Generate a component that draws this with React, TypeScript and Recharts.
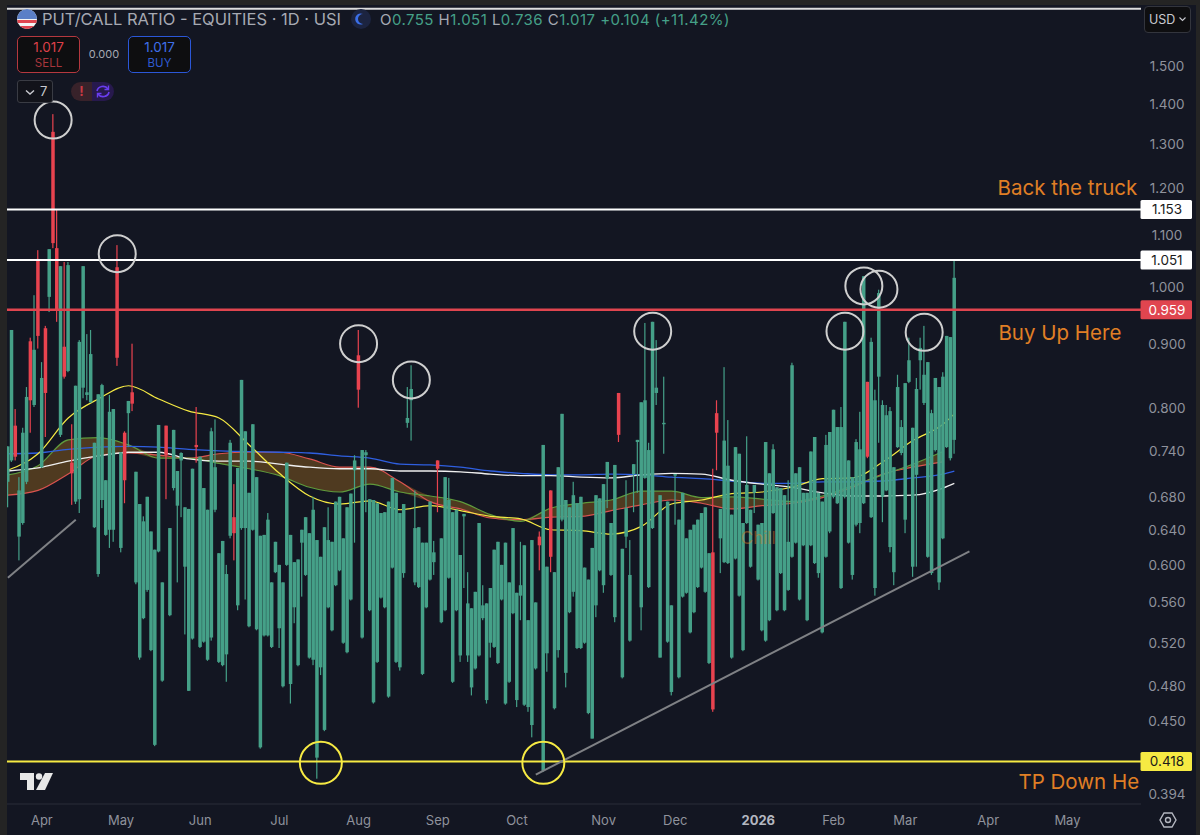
import React from 'react';
import {
  Area,
  Bar,
  ComposedChart,
  Line,
  ReferenceDot,
  ReferenceLine,
  XAxis,
  YAxis,
} from 'recharts';

// daily candles, one entry per session, oldest first
const highs = [
  0.746, 0.924, 0.799, 0.705, 0.772, 0.832, 0.911, 0.985, 1.07, 0.871,
  0.931, 1.072, 1.374, 1.154, 1.039, 1.047, 1.047, 0.777, 0.834, 0.907,
  1.039, 0.917, 0.924, 0.751, 0.821, 0.837, 0.701, 0.82, 0.799, 1.08,
  0.738, 0.767, 0.811, 0.901, 0.712, 0.671, 0.656, 0.68, 0.638, 0.617,
  0.776, 0.581, 0.775, 0.642, 0.769, 0.713, 0.738, 0.667, 0.665, 0.716,
  0.802, 0.732, 0.691, 0.664, 0.772, 0.784, 0.613, 0.627, 0.6, 0.755,
  0.696, 0.717, 0.843, 0.767, 0.685, 0.777, 0.705, 0.633, 0.634, 0.66,
  0.581, 0.626, 0.6, 0.581, 0.724, 0.634, 0.603, 0.606, 0.64, 0.655,
  0.636, 0.68, 0.628, 0.609, 0.643, 0.667, 0.626, 0.674, 0.68, 0.63,
  0.667, 0.684, 0.734, 0.924, 0.741, 0.741, 0.677, 0.676, 0.672, 0.66,
  0.661, 0.674, 0.704, 0.685, 0.66, 0.671, 0.832, 0.866, 0.688, 0.643,
  0.625, 0.625, 0.674, 0.627, 0.727, 0.63, 0.705, 0.704, 0.661, 0.664,
  0.611, 0.659, 0.592, 0.554, 0.571, 0.648, 0.578, 0.559, 0.575, 0.617,
  0.626, 0.6, 0.625, 0.581, 0.642, 0.57, 0.626, 0.622, 0.542, 0.628,
  0.56, 0.638, 0.748, 0.598, 0.688, 0.592, 0.718, 0.792, 0.676, 0.667,
  0.699, 0.672, 0.68, 0.597, 0.584, 0.619, 0.682, 0.678, 0.696, 0.725,
  0.648, 0.721, 0.823, 0.618, 0.701, 0.628, 0.722, 0.755, 0.809, 0.936,
  0.751, 0.938, 0.907, 0.682, 0.848, 0.674, 0.557, 0.709, 0.652, 0.685,
  0.63, 0.64, 0.646, 0.652, 0.66, 0.667, 0.613, 0.716, 0.812, 0.665,
  0.863, 0.783, 0.658, 0.745, 0.736, 0.648, 0.76, 0.664, 0.695, 0.646,
  0.648, 0.752, 0.71, 0.749, 0.692, 0.691, 0.682, 0.701, 0.87, 0.71,
  0.718, 0.685, 0.685, 0.739, 0.759, 0.685, 0.674, 0.762, 0.766, 0.798,
  0.773, 0.802, 0.938, 0.727, 0.705, 0.756, 0.795, 1.02, 0.84, 0.911,
  0.828, 0.995, 0.812, 0.805, 0.802, 0.718, 0.851, 0.783, 0.838, 0.911,
  0.772, 0.846, 0.911, 0.931, 0.871, 0.798, 0.846, 0.832, 0.855, 0.914,
  0.912, 1.051,
];

const lows = [
  0.667, 0.725, 0.727, 0.605, 0.646, 0.696, 0.765, 0.802, 0.893, 0.717,
  0.759, 0.955, 1.074, 0.938, 0.759, 0.845, 0.855, 0.67, 0.671, 0.66,
  0.815, 0.812, 0.808, 0.642, 0.587, 0.666, 0.633, 0.619, 0.626, 0.865,
  0.614, 0.672, 0.745, 0.796, 0.579, 0.504, 0.543, 0.571, 0.512, 0.43,
  0.614, 0.484, 0.677, 0.546, 0.688, 0.581, 0.655, 0.528, 0.476, 0.523,
  0.724, 0.515, 0.52, 0.503, 0.522, 0.661, 0.501, 0.498, 0.484, 0.63,
  0.605, 0.552, 0.64, 0.563, 0.535, 0.639, 0.532, 0.428, 0.526, 0.526,
  0.515, 0.591, 0.515, 0.479, 0.599, 0.465, 0.539, 0.498, 0.566, 0.588,
  0.505, 0.499, 0.405, 0.49, 0.442, 0.554, 0.531, 0.577, 0.593, 0.519,
  0.51, 0.562, 0.625, 0.801, 0.524, 0.661, 0.551, 0.465, 0.501, 0.564,
  0.554, 0.47, 0.596, 0.501, 0.494, 0.586, 0.772, 0.754, 0.578, 0.575,
  0.49, 0.554, 0.583, 0.589, 0.661, 0.539, 0.551, 0.585, 0.483, 0.551,
  0.502, 0.575, 0.502, 0.472, 0.495, 0.507, 0.542, 0.465, 0.506, 0.515,
  0.5, 0.562, 0.464, 0.483, 0.548, 0.462, 0.542, 0.463, 0.458, 0.437,
  0.495, 0.594, 0.41, 0.493, 0.592, 0.46, 0.506, 0.65, 0.479, 0.549,
  0.566, 0.514, 0.514, 0.519, 0.456, 0.436, 0.545, 0.593, 0.57, 0.666,
  0.588, 0.54, 0.752, 0.487, 0.619, 0.521, 0.661, 0.685, 0.532, 0.703,
  0.575, 0.641, 0.805, 0.506, 0.736, 0.52, 0.472, 0.646, 0.487, 0.565,
  0.569, 0.529, 0.549, 0.575, 0.596, 0.57, 0.5, 0.458, 0.714, 0.591,
  0.602, 0.601, 0.505, 0.606, 0.566, 0.512, 0.647, 0.597, 0.66, 0.583,
  0.531, 0.521, 0.541, 0.659, 0.551, 0.59, 0.551, 0.572, 0.608, 0.624,
  0.562, 0.621, 0.541, 0.621, 0.601, 0.586, 0.529, 0.608, 0.636, 0.678,
  0.671, 0.574, 0.678, 0.624, 0.584, 0.644, 0.636, 0.671, 0.73, 0.654,
  0.567, 0.751, 0.649, 0.687, 0.614, 0.578, 0.744, 0.734, 0.636, 0.838,
  0.587, 0.598, 0.828, 0.805, 0.608, 0.589, 0.739, 0.573, 0.629, 0.744,
  0.727, 0.736,
];

const bodyTops = [
  0.746, 0.924, 0.775, 0.688, 0.765, 0.817, 0.905, 0.891, 1.053, 0.846,
  0.927, 1.072, 1.33, 1.074, 1.039, 0.896, 1.041, 0.724, 0.834, 0.904,
  1.039, 0.824, 0.884, 0.751, 0.821, 0.835, 0.701, 0.795, 0.799, 1.037,
  0.738, 0.765, 0.811, 0.824, 0.712, 0.671, 0.65, 0.68, 0.638, 0.617,
  0.776, 0.581, 0.775, 0.642, 0.769, 0.713, 0.737, 0.667, 0.665, 0.716,
  0.748, 0.732, 0.691, 0.664, 0.767, 0.718, 0.613, 0.627, 0.59, 0.751,
  0.655, 0.717, 0.843, 0.767, 0.685, 0.777, 0.705, 0.633, 0.634, 0.652,
  0.581, 0.626, 0.6, 0.581, 0.724, 0.634, 0.603, 0.606, 0.64, 0.655,
  0.636, 0.664, 0.628, 0.609, 0.643, 0.628, 0.626, 0.674, 0.68, 0.63,
  0.667, 0.684, 0.727, 0.882, 0.741, 0.738, 0.677, 0.676, 0.672, 0.66,
  0.661, 0.674, 0.704, 0.685, 0.66, 0.671, 0.786, 0.829, 0.642, 0.643,
  0.625, 0.625, 0.674, 0.614, 0.727, 0.63, 0.705, 0.676, 0.661, 0.664,
  0.611, 0.659, 0.559, 0.554, 0.571, 0.648, 0.557, 0.559, 0.575, 0.617,
  0.626, 0.6, 0.625, 0.581, 0.642, 0.57, 0.578, 0.622, 0.542, 0.628,
  0.56, 0.632, 0.748, 0.598, 0.688, 0.592, 0.718, 0.792, 0.676, 0.667,
  0.682, 0.672, 0.68, 0.597, 0.584, 0.619, 0.682, 0.678, 0.696, 0.725,
  0.648, 0.721, 0.823, 0.618, 0.666, 0.589, 0.722, 0.755, 0.809, 0.812,
  0.741, 0.938, 0.831, 0.682, 0.779, 0.674, 0.557, 0.709, 0.652, 0.685,
  0.63, 0.64, 0.646, 0.652, 0.66, 0.667, 0.613, 0.614, 0.793, 0.665,
  0.754, 0.72, 0.658, 0.745, 0.736, 0.648, 0.695, 0.664, 0.695, 0.646,
  0.648, 0.752, 0.71, 0.742, 0.692, 0.691, 0.682, 0.626, 0.866, 0.71,
  0.718, 0.685, 0.685, 0.739, 0.759, 0.685, 0.674, 0.748, 0.766, 0.798,
  0.773, 0.773, 0.938, 0.727, 0.705, 0.752, 0.742, 1.02, 0.84, 0.904,
  0.812, 0.989, 0.805, 0.79, 0.796, 0.718, 0.832, 0.773, 0.838, 0.874,
  0.772, 0.829, 0.894, 0.851, 0.871, 0.793, 0.846, 0.832, 0.848, 0.914,
  0.912, 1.017,
];

const bodyBottoms = [
  0.699, 0.727, 0.732, 0.632, 0.648, 0.699, 0.812, 0.805, 0.914, 0.718,
  0.823, 0.982, 1.084, 0.959, 0.762, 0.848, 0.857, 0.71, 0.674, 0.677,
  0.831, 0.82, 0.809, 0.643, 0.59, 0.676, 0.634, 0.64, 0.64, 0.878,
  0.619, 0.701, 0.793, 0.807, 0.581, 0.506, 0.544, 0.573, 0.513, 0.431,
  0.615, 0.485, 0.734, 0.547, 0.691, 0.669, 0.727, 0.598, 0.476, 0.524,
  0.745, 0.516, 0.521, 0.504, 0.525, 0.664, 0.502, 0.499, 0.509, 0.633,
  0.636, 0.557, 0.642, 0.642, 0.536, 0.64, 0.533, 0.429, 0.527, 0.527,
  0.516, 0.592, 0.534, 0.48, 0.6, 0.482, 0.555, 0.499, 0.625, 0.589,
  0.506, 0.504, 0.421, 0.497, 0.443, 0.555, 0.532, 0.578, 0.594, 0.52,
  0.511, 0.563, 0.714, 0.828, 0.525, 0.734, 0.552, 0.466, 0.502, 0.565,
  0.555, 0.471, 0.597, 0.502, 0.497, 0.591, 0.779, 0.812, 0.581, 0.576,
  0.491, 0.555, 0.584, 0.603, 0.716, 0.54, 0.552, 0.586, 0.484, 0.552,
  0.508, 0.656, 0.508, 0.479, 0.496, 0.508, 0.544, 0.468, 0.52, 0.516,
  0.501, 0.563, 0.465, 0.484, 0.549, 0.468, 0.567, 0.464, 0.462, 0.447,
  0.496, 0.622, 0.411, 0.51, 0.609, 0.461, 0.513, 0.652, 0.492, 0.55,
  0.571, 0.515, 0.515, 0.52, 0.457, 0.436, 0.557, 0.594, 0.578, 0.703,
  0.589, 0.545, 0.762, 0.488, 0.632, 0.522, 0.709, 0.752, 0.555, 0.704,
  0.576, 0.642, 0.823, 0.506, 0.777, 0.521, 0.475, 0.707, 0.488, 0.566,
  0.57, 0.53, 0.55, 0.576, 0.597, 0.571, 0.501, 0.46, 0.765, 0.63,
  0.603, 0.602, 0.506, 0.607, 0.567, 0.513, 0.648, 0.598, 0.685, 0.584,
  0.532, 0.522, 0.542, 0.66, 0.552, 0.591, 0.552, 0.573, 0.609, 0.625,
  0.563, 0.622, 0.542, 0.622, 0.602, 0.591, 0.53, 0.609, 0.638, 0.68,
  0.672, 0.575, 0.68, 0.625, 0.589, 0.646, 0.648, 0.672, 0.732, 0.655,
  0.575, 0.848, 0.68, 0.688, 0.62, 0.592, 0.745, 0.737, 0.652, 0.84,
  0.598, 0.708, 0.874, 0.808, 0.609, 0.591, 0.741, 0.581, 0.63, 0.745,
  0.73, 0.755,
];

// sessions that closed below their open
const redBars = [2, 6, 8, 10, 12, 13, 15, 17, 29, 31, 33, 42, 50, 60, 93, 114, 141, 144, 162, 187, 188, 228];

// moving averages read at these sessions only
const maBars = [
  0, 8, 16, 24, 32, 40, 48, 56, 64, 72, 80, 88, 96, 104, 112, 120, 128,
  136, 144, 152, 160, 168, 176, 184, 192, 200, 208, 216, 224, 232, 240, 248, 251,
];
const yellowMa = [
  0.714, 0.736, 0.786, 0.814, 0.834, 0.814, 0.796, 0.786, 0.748, 0.71, 0.681,
  0.671, 0.675, 0.664, 0.669, 0.663, 0.656, 0.653, 0.64, 0.639, 0.635, 0.644,
  0.671, 0.676, 0.684, 0.686, 0.692, 0.703, 0.704, 0.725, 0.754, 0.777, 0.792,
];
const blueMa = [
  0.736, 0.737, 0.742, 0.745, 0.746, 0.745, 0.742, 0.74, 0.739, 0.738, 0.737,
  0.733, 0.73, 0.722, 0.721, 0.718, 0.713, 0.71, 0.708, 0.708, 0.709, 0.708,
  0.705, 0.703, 0.7, 0.697, 0.697, 0.699, 0.699, 0.7, 0.704, 0.709, 0.713,
];
const whiteMa = [
  0.713, 0.717, 0.726, 0.733, 0.738, 0.738, 0.729, 0.726, 0.726, 0.722, 0.718,
  0.716, 0.716, 0.713, 0.713, 0.712, 0.709, 0.707, 0.707, 0.705, 0.704, 0.708,
  0.71, 0.709, 0.701, 0.696, 0.692, 0.685, 0.681, 0.681, 0.682, 0.691, 0.697,
];
const greenMa = [
  0.708, 0.72, 0.755, 0.758, 0.748, 0.73, 0.73, 0.723, 0.716, 0.707, 0.692,
  0.686, 0.696, 0.686, 0.681, 0.674, 0.658, 0.65, 0.666, 0.672, 0.676, 0.687,
  0.687, 0.679, 0.68, 0.677, 0.674, 0.681, 0.694, 0.708, 0.722, 0.739, null,
];
const redMa = [
  0.682, 0.688, 0.709, 0.734, 0.737, 0.734, 0.73, 0.736, 0.738, 0.738, 0.729,
  0.718, 0.718, 0.699, 0.674, 0.665, 0.654, 0.652, 0.655, 0.656, 0.663, 0.67,
  0.676, 0.672, 0.665, 0.669, 0.672, 0.679, 0.692, 0.709, 0.718, 0.725, null,
];

const priceTicks = [
  1.5, 1.4, 1.3, 1.2, 1.153, 1.1, 1.051, 1.0, 0.959, 0.9, 0.8, 0.74, 0.68,
  0.64, 0.6, 0.56, 0.52, 0.48, 0.45, 0.418, 0.394,
];
const monthBars = [9, 30, 51, 72, 93, 114, 135, 158, 177, 199, 219, 238, 260, 281];
const monthLabels = ['Apr', 'May', 'Jun', 'Jul', 'Aug', 'Sep', 'Oct', 'Nov', 'Dec', '2026', 'Feb', 'Mar', 'Apr', 'May'];

const greyCircles = [[12, 1.359], [29, 1.063], [93, 0.901], [107, 0.843], [171, 0.922], [222, 0.922], [227, 1.002], [231, 0.996], [243, 0.92]];
const yellowCircles = [[83, 0.417], [142, 0.417]];

const TOTAL_SLOTS = 301; // chart keeps blank room on the right for future sessions
const FONT = 'Inter, "Noto Sans", sans-serif';
const BG = '#131622';
const TEAL = '#45a088';
const RED = '#e8434f';
const YELLOW = '#f6ea43';
const ORANGE = '#e07f25';

const TAGS: Record<string, { bg: string; fg: string }> = {
  '1.153': { bg: '#ffffff', fg: '#1a1a1a' },
  '1.051': { bg: '#ffffff', fg: '#1a1a1a' },
  '0.959': { bg: '#e0454f', fg: '#ffffff' },
  '0.418': { bg: YELLOW, fg: '#1a1a1a' },
};

const rows = Array.from({ length: TOTAL_SLOTS }, (_, i) => {
  const k = maBars.indexOf(i);
  const hasBand = k >= 0 && greenMa[k] != null;
  return {
    i,
    wick: i < highs.length ? [lows[i], highs[i]] : null,
    body: i < highs.length ? [bodyBottoms[i], bodyTops[i]] : null,
    red: redBars.includes(i),
    yellow: k >= 0 ? yellowMa[k] : null,
    blue: k >= 0 ? blueMa[k] : null,
    white: k >= 0 ? whiteMa[k] : null,
    green: k >= 0 ? greenMa[k] : null,
    redLine: k >= 0 ? redMa[k] : null,
    band: hasBand ? [Math.min(greenMa[k]!, redMa[k]!), Math.max(greenMa[k]!, redMa[k]!)] : null,
  };
});

const candlePart = (props: any) => {
  const { x, y, width, height, payload } = props;
  if (!payload || !payload.wick || !Number.isFinite(y)) return <g />;
  return <rect x={x} y={y} width={width} height={Math.max(height, 1)} fill={payload.red ? RED : TEAL} />;
};

const PriceTick = ({ x, y, payload }: any) => {
  const label = payload.value.toFixed(3);
  const tag = TAGS[label];
  return (
    <g>
      {tag && <rect x={x - 6.5} y={y - 9.5} width={51.5} height={19} rx={1.5} fill={tag.bg} />}
      <text
        x={x + 20}
        y={y}
        dy="0.36em"
        textAnchor="middle"
        fontFamily={FONT}
        fontSize={13.5}
        fill={tag ? tag.fg : '#8f929c'}
      >
        {label}
      </text>
    </g>
  );
};

const MonthTick = ({ x, y, payload }: any) => {
  const label = monthLabels[monthBars.indexOf(payload.value)];
  const bold = label === '2026';
  return (
    <text
      x={x}
      y={y + 13}
      textAnchor="middle"
      fontFamily={FONT}
      fontSize={13}
      fontWeight={bold ? 700 : 400}
      fill={bold ? '#b4b7c0' : '#8f929c'}
    >
      {label}
    </text>
  );
};

const note = (value: string, fontSize = 20.5, color = ORANGE) => ({
  value,
  position: 'center' as const,
  fill: color,
  fontSize,
  fontFamily: FONT,
});

const box = (left: number, top: number, width: number, height: number, extra: React.CSSProperties = {}): React.CSSProperties => ({
  position: 'absolute',
  left,
  top,
  width,
  height,
  boxSizing: 'border-box',
  ...extra,
});

const Header = () => (
  <div style={{ fontFamily: FONT }}>
    <svg style={box(17, 9, 20, 20)} viewBox="0 0 20 20">
      <clipPath id="flag"><circle cx="10" cy="10" r="10" /></clipPath>
      <g clipPath="url(#flag)">
        <rect width="20" height="20" fill="#f4f4f4" />
        <rect y="11" width="20" height="3" fill="#e0454f" />
        <rect y="17" width="20" height="3" fill="#e0454f" />
        <rect width="20" height="10" fill="#5b7fc7" />
      </g>
    </svg>
    <div style={box(42, 9, 310, 20, { color: '#a6a9b2', fontSize: 16.5, lineHeight: '20px', whiteSpace: 'nowrap' })}>
      PUT/CALL RATIO - EQUITIES · 1D · USI
    </div>
    <svg style={box(351, 9, 20, 20)} viewBox="0 0 20 20">
      <circle cx="10" cy="10" r="10" fill="#1c2440" />
      <path d="M12 5a5.5 5.5 0 1 0 0 10a5 5 0 0 1 0-10z" fill="#3b6fe8" />
    </svg>
    <div style={box(380, 10, 360, 20, { color: '#a6a9b2', fontSize: 15, letterSpacing: 0.45, lineHeight: '20px', whiteSpace: 'nowrap' })}>
      O<span style={{ color: TEAL }}>0.755</span> H<span style={{ color: TEAL }}>1.051</span> L
      <span style={{ color: TEAL }}>0.736</span> C<span style={{ color: TEAL }}>1.017 +0.104 (+11.42%)</span>
    </div>

    <div style={box(17, 36, 63, 37, { border: '1.5px solid #b5383f', borderRadius: 5, background: '#0e0e10', color: '#dc4049', textAlign: 'center' })}>
      <div style={{ fontSize: 13.5, lineHeight: '19px', marginTop: 1 }}>1.017</div>
      <div style={{ fontSize: 11.5, lineHeight: '13px', color: '#a8363d' }}>SELL</div>
    </div>
    <div style={box(80, 45, 48, 18, { color: '#a6a9b2', fontSize: 11, lineHeight: '18px', textAlign: 'center' })}>0.000</div>
    <div style={box(128, 36, 63, 37, { border: '1.5px solid #2b57d8', borderRadius: 5, background: '#0e0e10', color: '#3f6fe8', textAlign: 'center' })}>
      <div style={{ fontSize: 13.5, lineHeight: '19px', marginTop: 1 }}>1.017</div>
      <div style={{ fontSize: 11.5, lineHeight: '13px', color: '#2f5ad0' }}>BUY</div>
    </div>

    <div style={box(17, 80, 36, 23, { border: '1px solid #3a3c44', borderRadius: 3, background: '#12131a', color: '#c9cad0', fontSize: 13, lineHeight: '21px', paddingLeft: 7 })}>
      <svg width="10" height="7" viewBox="0 0 10 7" style={{ marginRight: 5 }}>
        <path d="M1 1.5 L5 5 L9 1.5" fill="none" stroke="#c9cad0" strokeWidth="1.4" />
      </svg>
      7
    </div>
    <div style={box(71, 82, 21, 19, { background: '#38222a', borderRadius: '10px 0 0 10px', color: '#c93a44', fontSize: 13, fontWeight: 700, lineHeight: '19px', textAlign: 'center' })}>!</div>
    <svg style={box(92, 82, 22, 19, { background: '#27194d', borderRadius: '0 10px 10px 0' })} viewBox="0 0 22 19">
      <path d="M5 9 a6 5.5 0 0 1 11-2 M17 10 a6 5.5 0 0 1-11 2" fill="none" stroke="#6a3df0" strokeWidth="1.6" />
      <path d="M16.5 3.5 v4 h-4 M5.500 15.500 v-4 h4" fill="none" stroke="#6a3df0" strokeWidth="1.4" />
    </svg>

    <div style={box(1144, 6, 47, 27, { border: '1px solid #33353d', borderRadius: 4, background: '#0e0e10', color: '#c9cad0', fontSize: 12.5, lineHeight: '25px', paddingLeft: 4, whiteSpace: 'nowrap' })}>
      USD
      <svg width="7" height="5" viewBox="0 0 7 5" style={{ marginLeft: 4, verticalAlign: 2 }}>
        <path d="M0.500 0.500 L3.500 3.500 L6.500 0.500" fill="none" stroke="#c9cad0" strokeWidth="1.1" />
      </svg>
    </div>

    <svg style={box(20, 773, 34, 18)} viewBox="0 0 34 18">
      <path d="M0 0 H14 V17 H7 V7 H0 Z" fill="#e8e8e8" />
      <circle cx="19" cy="3.500" r="3.200" fill="#e8e8e8" />
      <path d="M25 0 H33 L25 17 H16 Z" fill="#e8e8e8" />
    </svg>
    <svg style={box(1159, 811, 18, 18)} viewBox="0 0 18 18">
      <path d="M5 2 H13 L17 9 L13 16 H5 L1 9 Z" fill="none" stroke="#b4b7c0" strokeWidth="1.4" />
      <circle cx="9" cy="9" r="2.500" fill="none" stroke="#b4b7c0" strokeWidth="1.4" />
    </svg>
  </div>
);

export default function App() {
  return (
    <div style={{ position: 'absolute', left: 0, top: 0, width: 1200, height: 835, background: BG, overflow: 'hidden' }}>
      <ComposedChart
        width={1200}
        height={835}
        data={rows}
        margin={{ top: 8, right: 5, bottom: 0, left: 6 }}
      >
        <XAxis
          xAxisId="wick"
          dataKey="i"
          type="category"
          ticks={monthBars}
          interval={0}
          height={31}
          tick={<MonthTick />}
          tickLine={false}
          axisLine={{ stroke: '#2a2d38' }}
        />
        <XAxis xAxisId="body" dataKey="i" type="category" hide height={0} />
        <YAxis
          yAxisId="price"
          orientation="right"
          scale="log"
          domain={[0.3866, 1.67]}
          allowDataOverflow
          ticks={priceTicks}
          interval={0}
          width={54}
          tick={<PriceTick />}
          tickLine={false}
          axisLine={false}
          tickMargin={0}
        />

        <Area xAxisId="wick" yAxisId="price" dataKey="band" type="monotone" connectNulls fill="#4f3a20" fillOpacity={1} stroke="none" isAnimationActive={false} zIndex={90} />
        <Line xAxisId="wick" yAxisId="price" dataKey="redLine" type="monotone" connectNulls dot={false} stroke="#d9534f" strokeWidth={1.2} isAnimationActive={false} zIndex={100} />
        <Line xAxisId="wick" yAxisId="price" dataKey="green" type="monotone" connectNulls dot={false} stroke="#5f9a3c" strokeWidth={1.2} isAnimationActive={false} zIndex={100} />
        <Line xAxisId="wick" yAxisId="price" dataKey="blue" type="monotone" connectNulls dot={false} stroke="#2f5fe0" strokeWidth={1.3} isAnimationActive={false} zIndex={100} />
        <Line xAxisId="wick" yAxisId="price" dataKey="white" type="monotone" connectNulls dot={false} stroke="#f0f0f0" strokeWidth={1.3} isAnimationActive={false} zIndex={100} />
        <Line xAxisId="wick" yAxisId="price" dataKey="yellow" type="monotone" connectNulls dot={false} stroke={YELLOW} strokeWidth={1.2} isAnimationActive={false} zIndex={100} />

        <Bar xAxisId="wick" yAxisId="price" dataKey="wick" barSize={1.2} shape={candlePart} isAnimationActive={false} />
        <Bar xAxisId="body" yAxisId="price" dataKey="body" barSize={3.5} shape={candlePart} isAnimationActive={false} />

        <ReferenceLine xAxisId="wick" yAxisId="price" y={1.668} stroke="#dcdcdc" strokeWidth={2} />
        <ReferenceLine xAxisId="wick" yAxisId="price" y={1.153} stroke="#ffffff" strokeWidth={2} />
        <ReferenceLine xAxisId="wick" yAxisId="price" y={1.051} stroke="#ffffff" strokeWidth={2} />
        <ReferenceLine xAxisId="wick" yAxisId="price" y={0.959} stroke="#e0454f" strokeWidth={2.5} />
        <ReferenceLine xAxisId="wick" yAxisId="price" y={0.418} stroke={YELLOW} strokeWidth={2} />

        <ReferenceLine
          xAxisId="wick"
          yAxisId="price"
          segment={[{ x: 0, y: 0.586 }, { x: 18, y: 0.652 }]}
          stroke="#7f8185"
          strokeWidth={2}
        />
        <ReferenceLine
          xAxisId="wick"
          yAxisId="price"
          segment={[{ x: 140, y: 0.408 }, { x: 255, y: 0.615 }]}
          stroke="#7f8185"
          strokeWidth={2}
        />

        {greyCircles.map(([bar, value]) => (
          <ReferenceDot key={`g${bar}`} xAxisId="wick" yAxisId="price" x={bar} y={value} r={18.5} fill="none" stroke="#cfcfcf" strokeWidth={2} />
        ))}
        {yellowCircles.map(([bar, value]) => (
          <ReferenceDot key={`y${bar}`} xAxisId="wick" yAxisId="price" x={bar} y={value} r={21} fill="none" stroke={YELLOW} strokeWidth={2} />
        ))}

        <ReferenceDot xAxisId="wick" yAxisId="price" x={281} y={1.2} r={0} fill="none" stroke="none" label={note('Back the truck')} />
        <ReferenceDot xAxisId="wick" yAxisId="price" x={279} y={0.919} r={0} fill="none" stroke="none" label={note('Buy Up Here')} />
        <ReferenceDot xAxisId="wick" yAxisId="price" x={284} y={0.403} r={0} fill="none" stroke="none" label={note('TP Down He')} />
        <ReferenceDot xAxisId="wick" yAxisId="price" x={199} y={0.63} r={0} fill="none" stroke="none" label={note('Chill', 17, 'rgba(224,127,37,0.45)')} />
      </ComposedChart>
      <div style={box(0, 0, 7, 835, { background: '#242424' })} />
      <div style={box(0, 0, 1200, 5, { background: '#242424' })} />
      <div style={box(1196, 0, 4, 835, { background: '#242424' })} />
      <Header />
    </div>
  );
}
